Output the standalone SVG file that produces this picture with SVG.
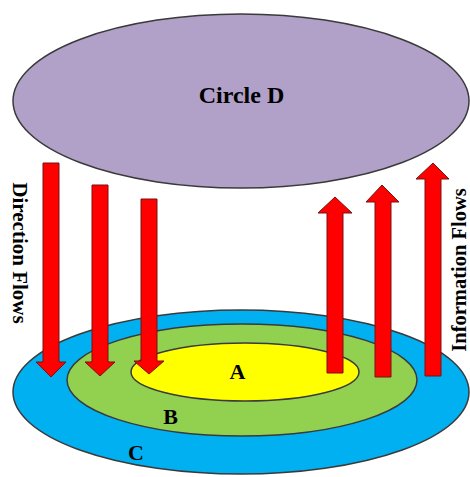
<svg xmlns="http://www.w3.org/2000/svg" width="470" height="477" viewBox="0 0 470 477">
<style>
.ring{stroke:#3a3a3a;stroke-width:1.5}
.lbl{font-family:"Liberation Serif","Times New Roman",serif;font-weight:bold;fill:#000}
.arr{fill:#ff0000;stroke:#7a1010;stroke-width:1}
</style>
<rect width="470" height="477" fill="#fff"/>
<g id="nodeC">
<ellipse class="ring" cx="241" cy="392" rx="228" ry="82" fill="#00b0f0"/>
<text class="lbl" x="136" y="460" font-size="22" text-anchor="middle">C</text>
</g>
<g id="nodeB">
<ellipse class="ring" cx="242" cy="380" rx="175" ry="56" fill="#92d050"/>
<text class="lbl" x="170.5" y="424" font-size="22" text-anchor="middle">B</text>
</g>
<g id="nodeA">
<ellipse class="ring" cx="245" cy="372" rx="114" ry="29" fill="#ffff00"/>
<text class="lbl" x="237.5" y="379" font-size="22" text-anchor="middle">A</text>
</g>
<g id="nodeD">
<ellipse class="ring" cx="241" cy="101" rx="228" ry="87" fill="#b1a0c7"/>
<text class="lbl" x="241.5" y="103" font-size="24" text-anchor="middle">Circle D</text>
</g>
<g id="connectors">
<polygon class="arr" points="43,163 59,163 59,362 66,362 51,377 36,362 43,362"/>
<polygon class="arr" points="92,185 108,185 108,362 115,362 100,376 85,362 92,362"/>
<polygon class="arr" points="141,199 157,199 157,361 164,361 149,374 134,361 141,361"/>
<polygon class="arr" points="327,373 343,373 343,213 352,213 335,197 318,213 327,213"/>
<polygon class="arr" points="375,377 391,377 391,202 399,202 382,185 366,202 375,202"/>
<polygon class="arr" points="425,376 441,376 441,179 449,179 433,163 416,179 425,179"/>
</g>
<g id="flowLabels">
<text class="lbl" font-size="21" text-anchor="middle" transform="translate(13,253) rotate(90)">Direction Flows</text>
<text class="lbl" font-size="20.5" text-anchor="middle" transform="translate(466,270) rotate(-90)">Information Flows</text>
</g>
</svg>
